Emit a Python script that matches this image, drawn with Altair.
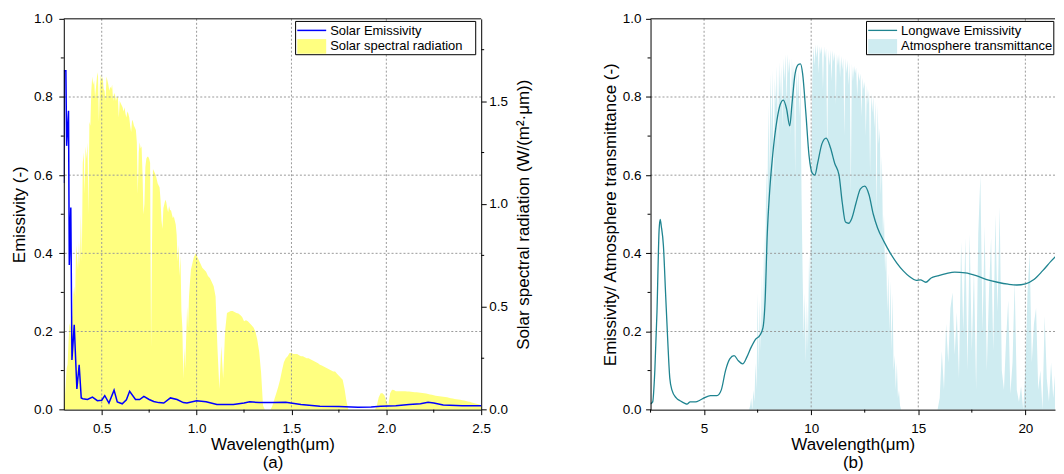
import altair as alt
import pandas as pd

FONT = "Liberation Sans"

# ---------------- panel (a) : solar band ----------------
# solar spectral radiation, 0.300-0.995 um every 0.005 um
solar_rad_fine = [
    0.00, 0.05, 0.12, 0.20, 0.22, 0.33, 0.42, 0.40, 0.47, 0.45, 0.56, 0.60, 0.55, 0.80, 0.75, 0.68, 0.82, 0.70, 0.95, 0.72,
    1.20, 1.25, 1.05, 1.28, 1.22, 1.30, 0.95, 1.40, 1.38, 1.55, 1.62, 1.58, 1.60, 1.52, 1.57, 1.62, 1.64, 1.40, 1.58, 1.63,
    1.60, 1.62, 1.56, 1.55, 1.50, 1.62, 1.60, 1.58, 1.55, 1.57, 1.56, 1.58, 1.50, 1.54, 1.53, 1.50, 1.52, 1.52, 1.42, 1.50,
    1.49, 1.48, 1.47, 1.45, 1.47, 1.44, 1.42, 1.45, 1.44, 1.42, 1.38, 1.35, 1.41, 1.40, 1.38, 1.37, 1.36, 1.30, 1.05, 1.25,
    1.30, 1.27, 1.28, 1.15, 0.95, 1.00, 1.18, 1.22, 1.23, 1.23, 1.22, 1.20, 0.30, 0.80, 1.17, 1.16, 1.15, 1.14, 1.12, 1.10,
    1.09, 1.08, 1.02, 0.92, 0.88, 0.98, 1.00, 1.02, 1.01, 0.98, 0.96, 0.99, 0.97, 0.97, 0.95, 0.93, 0.94, 0.92, 0.90, 0.85,
    0.72, 0.80, 0.65, 0.75, 0.48, 0.40, 0.15, 0.30, 0.20, 0.35, 0.50, 0.40, 0.55, 0.62, 0.68, 0.70, 0.72, 0.74, 0.75, 0.76,
]
# solar spectral radiation, 1.00-2.50 um every 0.01 um
solar_rad_coarse = [
    0.75, 0.73, 0.71, 0.69, 0.68, 0.67, 0.65, 0.64, 0.62, 0.60,
    0.55, 0.30, 0.10, 0.31, 0.15, 0.38, 0.47, 0.475, 0.48, 0.48,
    0.475, 0.47, 0.468, 0.46, 0.45, 0.43, 0.435, 0.43, 0.42, 0.41,
    0.40, 0.38, 0.34, 0.28, 0.18, 0.02, 0.0, 0.0, 0.0, 0.0,
    0.02, 0.05, 0.08, 0.11, 0.145, 0.19, 0.23, 0.25, 0.26, 0.275,
    0.275, 0.27, 0.27, 0.27, 0.265, 0.26, 0.26, 0.255, 0.25, 0.25,
    0.245, 0.24, 0.235, 0.23, 0.225, 0.218, 0.215, 0.21, 0.205, 0.20,
    0.195, 0.19, 0.185, 0.185, 0.175, 0.165, 0.155, 0.145, 0.10, 0.04,
    0.0, 0.0, 0.0, 0.0, 0.0, 0.0, 0.0, 0.0, 0.0, 0.0,
    0.0, 0.0, 0.0, 0.0, 0.0, 0.02, 0.06, 0.08, 0.08, 0.07,
    0.04, 0.02, 0.08, 0.097, 0.095, 0.09, 0.09, 0.089, 0.089, 0.09,
    0.089, 0.088, 0.088, 0.087, 0.086, 0.085, 0.084, 0.083, 0.082, 0.081,
    0.08, 0.078, 0.076, 0.074, 0.072, 0.07, 0.068, 0.066, 0.065, 0.064,
    0.063, 0.061, 0.06, 0.058, 0.056, 0.054, 0.052, 0.05, 0.049, 0.048,
    0.046, 0.044, 0.042, 0.04, 0.038, 0.035, 0.032, 0.03, 0.028, 0.025,
    0.02,
]
solar_wl = [round(0.300 + 0.005 * i, 3) for i in range(len(solar_rad_fine))] + \
           [round(1.00 + 0.01 * i, 2) for i in range(len(solar_rad_coarse))]
solar_rad = solar_rad_fine + solar_rad_coarse

# solar emissivity (wavelength um, value)
emis_a = [
    (0.300, 0.58), (0.302, 0.867), (0.311, 0.867), (0.315, 0.675), (0.325, 0.765),
    (0.329, 0.37), (0.337, 0.517), (0.343, 0.127), (0.355, 0.217), (0.369, 0.053),
    (0.381, 0.115), (0.392, 0.03), (0.400, 0.028), (0.425, 0.026), (0.451, 0.032),
    (0.477, 0.023), (0.500, 0.024), (0.516, 0.036), (0.538, 0.017), (0.565, 0.05),
    (0.582, 0.02), (0.608, 0.015), (0.630, 0.025), (0.647, 0.047), (0.678, 0.026),
    (0.700, 0.026), (0.722, 0.034), (0.750, 0.026), (0.774, 0.021), (0.800, 0.018),
    (0.827, 0.017), (0.862, 0.03), (0.897, 0.026), (0.930, 0.018), (0.949, 0.017),
    (1.000, 0.023), (1.050, 0.02), (1.107, 0.013), (1.150, 0.013), (1.194, 0.013),
    (1.250, 0.017), (1.280, 0.02), (1.330, 0.018), (1.400, 0.018), (1.470, 0.019),
    (1.550, 0.013), (1.650, 0.009), (1.750, 0.008), (1.850, 0.006), (1.920, 0.007),
    (1.970, 0.009), (2.050, 0.010), (2.120, 0.013), (2.180, 0.015), (2.220, 0.019),
    (2.250, 0.017), (2.300, 0.012), (2.400, 0.010), (2.500, 0.010),
]

# ---------------- panel (b) : longwave band ----------------
lw_emis = [
    (2.50, 0.015), (2.60, 0.02), (2.70, 0.10), (2.80, 0.25), (2.90, 0.46), (2.95, 0.487),
    (3.00, 0.47), (3.10, 0.42), (3.20, 0.30), (3.30, 0.18), (3.40, 0.08), (3.50, 0.05),
    (3.70, 0.03), (3.90, 0.022), (4.10, 0.016), (4.20, 0.014), (4.35, 0.02), (4.60, 0.02),
    (4.80, 0.024), (5.00, 0.03), (5.30, 0.036), (5.60, 0.036), (5.80, 0.05), (6.00, 0.10),
    (6.20, 0.13), (6.40, 0.138), (6.60, 0.125), (6.80, 0.117), (7.00, 0.135), (7.20, 0.16),
    (7.40, 0.18), (7.60, 0.19), (7.75, 0.21), (7.85, 0.28), (7.95, 0.45), (8.05, 0.55),
    (8.20, 0.65), (8.40, 0.74), (8.55, 0.78), (8.70, 0.792), (8.85, 0.77), (9.00, 0.726),
    (9.10, 0.78), (9.25, 0.86), (9.40, 0.883), (9.50, 0.885), (9.60, 0.86), (9.75, 0.76),
    (9.90, 0.65), (10.05, 0.605), (10.17, 0.60), (10.30, 0.63), (10.50, 0.68), (10.70, 0.695),
    (10.90, 0.67), (11.10, 0.63), (11.30, 0.60), (11.45, 0.53), (11.60, 0.48), (11.75, 0.477),
    (11.90, 0.49), (12.10, 0.53), (12.30, 0.565), (12.50, 0.572), (12.70, 0.55), (12.90, 0.50),
    (13.10, 0.465), (13.40, 0.43), (13.70, 0.40), (14.00, 0.375), (14.30, 0.355), (14.60, 0.34),
    (14.90, 0.331), (15.10, 0.332), (15.35, 0.326), (15.60, 0.337), (15.90, 0.342), (16.30, 0.348),
    (16.70, 0.352), (17.20, 0.350), (17.70, 0.343), (18.20, 0.333), (18.70, 0.326), (19.20, 0.321),
    (19.60, 0.319), (20.00, 0.322), (20.40, 0.333), (20.80, 0.355), (21.20, 0.380), (21.60, 0.403),
    (22.00, 0.43),
]
# atmosphere transmittance, 7.00-14.50 um every 0.05 um
trans_band = [
    0.0, 0.0, 0.0, 0.01, 0.03, 0.0, 0.05, 0.02, 0.12, 0.05,
    0.30, 0.10, 0.28, 0.15, 0.35, 0.20, 0.45, 0.30, 0.62, 0.50,
    0.78, 0.60, 0.86, 0.70, 0.87, 0.55, 0.85, 0.78, 0.88, 0.65,
    0.89, 0.80, 0.88, 0.72, 0.90, 0.84, 0.91, 0.78, 0.91, 0.86,
    0.90, 0.70, 0.90, 0.83, 0.89, 0.60, 0.88, 0.80, 0.87, 0.75,
    0.85, 0.55, 0.35, 0.18, 0.30, 0.12, 0.28, 0.15, 0.40, 0.30,
    0.55, 0.85, 0.93, 0.88, 0.935, 0.90, 0.935, 0.86, 0.93, 0.91,
    0.93, 0.82, 0.93, 0.90, 0.925, 0.65, 0.92, 0.88, 0.92, 0.84,
    0.92, 0.89, 0.915, 0.78, 0.91, 0.88, 0.91, 0.85, 0.905, 0.87,
    0.90, 0.70, 0.90, 0.86, 0.895, 0.83, 0.89, 0.55, 0.885, 0.84,
    0.88, 0.86, 0.875, 0.80, 0.865, 0.84, 0.86, 0.75, 0.85, 0.82,
    0.84, 0.70, 0.83, 0.78, 0.82, 0.60, 0.81, 0.76, 0.80, 0.72,
    0.79, 0.50, 0.78, 0.68, 0.72, 0.55, 0.65, 0.45, 0.50, 0.35,
    0.42, 0.25, 0.35, 0.20, 0.33, 0.15, 0.30, 0.10, 0.14, 0.05,
    0.12, 0.03, 0.05, 0.01, 0.0, 0.0, 0.0, 0.0, 0.0, 0.0,
    0.0,
]
# atmosphere transmittance, 15.8-22.0 um every 0.1 um
trans_far = [
    0.0, 0.0,
    0.03, 0.15, 0.05, 0.22, 0.12, 0.26, 0.30, 0.14, 0.25, 0.08,
    0.43, 0.20, 0.44, 0.10, 0.45, 0.15, 0.36, 0.05, 0.45, 0.60,
    0.20, 0.47, 0.10, 0.30, 0.44, 0.15, 0.50, 0.25, 0.52, 0.10,
    0.05, 0.18, 0.28, 0.04, 0.12, 0.33, 0.05, 0.02, 0.06, 0.0,
    0.10, 0.30, 0.40, 0.12, 0.22, 0.26, 0.05, 0.10, 0.0, 0.24,
    0.08, 0.02, 0.12, 0.03, 0.10, 0.19, 0.02, 0.08, 0.15, 0.05,
    0.10,
]
trans_wl = [2.5] + [round(7.0 + 0.05 * i, 2) for i in range(len(trans_band))] + \
           [round(15.8 + 0.1 * i, 1) for i in range(len(trans_far))]
trans_val = [0.0] + trans_band + trans_far

names_a = ["Solar Emissivity", "Solar spectral radiation"]
colors_a = ["#0000ff", "#ffff80"]
names_b = ["Longwave Emissivity", "Atmosphere transmittance"]
colors_b = ["#1f8490", "#cfecf1"]

grid_x_a = [0.5, 1.0, 1.5, 2.0]
grid_x_b = [5, 10, 15, 20]
grid_y = [0.2, 0.4, 0.6, 0.8]
minor_x_a = [0.75, 1.25, 1.75, 2.25]
minor_y_emis = [0.1, 0.3, 0.5, 0.7, 0.9]
minor_y_rad = [0.25, 0.75, 1.25, 1.75]
minor_x_b = [2.5, 7.5, 12.5, 17.5]
y_vals = [0, 0.2, 0.4, 0.6, 0.8, 1.0]

W_A, W_B, H = 419, 406, 392.3
GRID = dict(color="#9a9a9a", strokeDash=[2, 2], strokeWidth=1)

sol_df = pd.DataFrame({"wl": solar_wl, "v": solar_rad})
ema_df = pd.DataFrame({"wl": [p[0] for p in emis_a], "v": [p[1] for p in emis_a]})
lw_df = pd.DataFrame({"wl": [p[0] for p in lw_emis], "v": [p[1] for p in lw_emis]})
tr_df = pd.DataFrame({"wl": trans_wl, "v": trans_val})


def one(col, vals):
    return pd.DataFrame({col: vals})


def legend_layers(names, colors, x0, y0, w, line_w):
    h = 33.4
    frame = alt.Chart(one("s", [names[0]])).mark_rect(fill="white", stroke="black", strokeWidth=1).encode(
        x=alt.value(x0), x2=alt.value(x0 + w), y=alt.value(y0), y2=alt.value(y0 + h))
    sym_line = alt.Chart(one("s", [names[0]])).mark_rule(color=colors[0], strokeWidth=line_w).encode(
        x=alt.value(x0 + 1.7), x2=alt.value(x0 + 30.7), y=alt.value(y0 + 9.0))
    sym_area = alt.Chart(one("s", [names[1]])).mark_rect(fill=colors[1]).encode(
        x=alt.value(x0 + 1.7), x2=alt.value(x0 + 30.7), y=alt.value(y0 + 17.7), y2=alt.value(y0 + 32.4))
    lab1 = alt.Chart(one("s", [names[0]])).mark_text(
        align="left", baseline="middle", font=FONT, fontSize=13, color="black").encode(
        x=alt.value(x0 + 34.7), y=alt.value(y0 + 10.0), text="s:N")
    lab2 = alt.Chart(one("s", [names[1]])).mark_text(
        align="left", baseline="middle", font=FONT, fontSize=13, color="black").encode(
        x=alt.value(x0 + 34.7), y=alt.value(y0 + 25.0), text="s:N")
    return [frame, sym_line, sym_area, lab1, lab2]


# ---------- left chart ----------
xs_a = alt.Scale(domain=[0.3, 2.5], nice=False, zero=False)
ys_a = alt.Scale(domain=[0, 1], nice=False)
ys_rad = alt.Scale(domain=[0, 1.9], nice=False)
xax_a = alt.Axis(values=[0.5, 1.0, 1.5, 2.0, 2.5], format=".1f",
                 title=["Wavelength(μm)", "(a)"], titleLineHeight=18.5,
                 labelPadding=6.5, titlePadding=2, grid=False, zindex=1, labelFlush=False)

area_a = alt.Chart(sol_df).mark_area(clip=True, opacity=1, color=colors_a[1]).encode(
    x=alt.X("wl:Q", scale=xs_a, axis=xax_a),
    y=alt.Y("v:Q", stack=None, scale=ys_rad,
            axis=alt.Axis(orient="right", values=[0, 0.5, 1.0, 1.5], format=".1f",
                          title="Solar spectral radiation (W/(m²·μm))", titleAngle=270,
                          titleBaseline="top", labelPadding=2.6, titlePadding=7.8,
                          grid=False, zindex=1, labelFlush=False)),
)
gx_a = alt.Chart(one("g", grid_x_a)).mark_rule(**GRID).encode(
    x=alt.X("g:Q", scale=xs_a, axis=xax_a))
gy_a = alt.Chart(one("g", grid_y)).mark_rule(**GRID).encode(
    y=alt.Y("g:Q", scale=ys_a, axis=None))
line_a = alt.Chart(ema_df).mark_line(clip=True, color=colors_a[0], strokeWidth=1.5).encode(
    x=alt.X("wl:Q", scale=xs_a, axis=xax_a),
    y=alt.Y("v:Q", scale=ys_a,
            axis=alt.Axis(orient="left", values=y_vals, format=".1f", title="Emissivity (-)",
                          labelPadding=6.7, titlePadding=4.6, grid=False, zindex=1,
                          labelFlush=False)),
)
mx_a = alt.Chart(one("m", minor_x_a)).mark_rule(color="black", strokeWidth=1).encode(
    x=alt.X("m:Q", scale=xs_a, axis=xax_a), y=alt.value(H), y2=alt.value(H + 3))
myl_a = alt.Chart(one("m", minor_y_emis)).mark_rule(color="black", strokeWidth=1).encode(
    y=alt.Y("m:Q", scale=ys_a, axis=None), x=alt.value(0), x2=alt.value(-3))
myr_a = alt.Chart(one("m", minor_y_rad)).mark_rule(color="black", strokeWidth=1).encode(
    y=alt.Y("m:Q", scale=ys_rad, axis=None), x=alt.value(W_A), x2=alt.value(W_A + 3))
top_a = alt.Chart(one("m", [0])).mark_rule(color="black", strokeWidth=1).encode(
    x=alt.value(0), x2=alt.value(W_A), y=alt.value(0))

left = alt.layer(
    area_a, gx_a, gy_a, line_a, mx_a, myl_a, myr_a, top_a,
    *legend_layers(names_a, colors_a, 232.7, 2.6, 180.8, 1.5)
).resolve_scale(y="independent").properties(width=W_A, height=H)

# ---------- right chart ----------
xs_b = alt.Scale(domain=[2.5, 2.5 + W_B / 21.5], nice=False, zero=False)
ys_b = alt.Scale(domain=[0, 1], nice=False)
xax_b = alt.Axis(values=[5, 10, 15, 20], format="d",
                 title=["Wavelength(μm)", "(b)"], titleLineHeight=18.5,
                 labelPadding=6.5, titlePadding=2, grid=False, zindex=1, labelFlush=False)
yax_b = alt.Axis(values=y_vals, format=".1f",
                 title="Emissivity/ Atmosphere transmittance (-)",
                 labelPadding=4.7, titlePadding=3.2, grid=False, zindex=1, labelFlush=False)

area_b = alt.Chart(tr_df).mark_area(clip=True, opacity=1, color=colors_b[1]).encode(
    x=alt.X("wl:Q", scale=xs_b, axis=xax_b),
    y=alt.Y("v:Q", stack=None, scale=ys_b, axis=yax_b),
)
gx_b = alt.Chart(one("g", grid_x_b)).mark_rule(**GRID).encode(
    x=alt.X("g:Q", scale=xs_b, axis=xax_b))
gy_b = alt.Chart(one("g", grid_y)).mark_rule(**GRID).encode(
    y=alt.Y("g:Q", scale=ys_b, axis=yax_b))
line_b = alt.Chart(lw_df).mark_line(clip=True, interpolate="monotone", color=colors_b[0],
                                    strokeWidth=1.3).encode(
    x=alt.X("wl:Q", scale=xs_b, axis=xax_b),
    y=alt.Y("v:Q", scale=ys_b, axis=yax_b),
)
mx_b = alt.Chart(one("m", minor_x_b)).mark_rule(color="black", strokeWidth=1).encode(
    x=alt.X("m:Q", scale=xs_b, axis=xax_b), y=alt.value(H), y2=alt.value(H + 3))
my_b = alt.Chart(one("m", minor_y_emis)).mark_rule(color="black", strokeWidth=1).encode(
    y=alt.Y("m:Q", scale=ys_b, axis=yax_b), x=alt.value(0), x2=alt.value(-3))
top_b = alt.Chart(one("m", [0])).mark_rule(color="black", strokeWidth=1).encode(
    x=alt.value(0), x2=alt.value(W_B), y=alt.value(0))

right = alt.layer(
    area_b, gx_b, gy_b, line_b, mx_b, my_b, top_b,
    *legend_layers(names_b, colors_b, 216.8, 2.6, 188.0, 1.3)
).properties(width=W_B, height=H)

chart = alt.hconcat(left, right, spacing=69).properties(
    padding={"left": 2, "top": 3, "right": 0, "bottom": 0}
).configure(font=FONT).configure_view(
    stroke=None
).configure_axis(
    labelFont=FONT, labelFontSize=13.5, labelColor="black",
    titleFont=FONT, titleFontSize=17, titleFontWeight="normal", titleColor="black",
    domainColor="black", domainWidth=1, tickColor="black", tickWidth=1, tickSize=5,
)

chart.save("out.html", embed_options={"renderer": "svg", "actions": False})
